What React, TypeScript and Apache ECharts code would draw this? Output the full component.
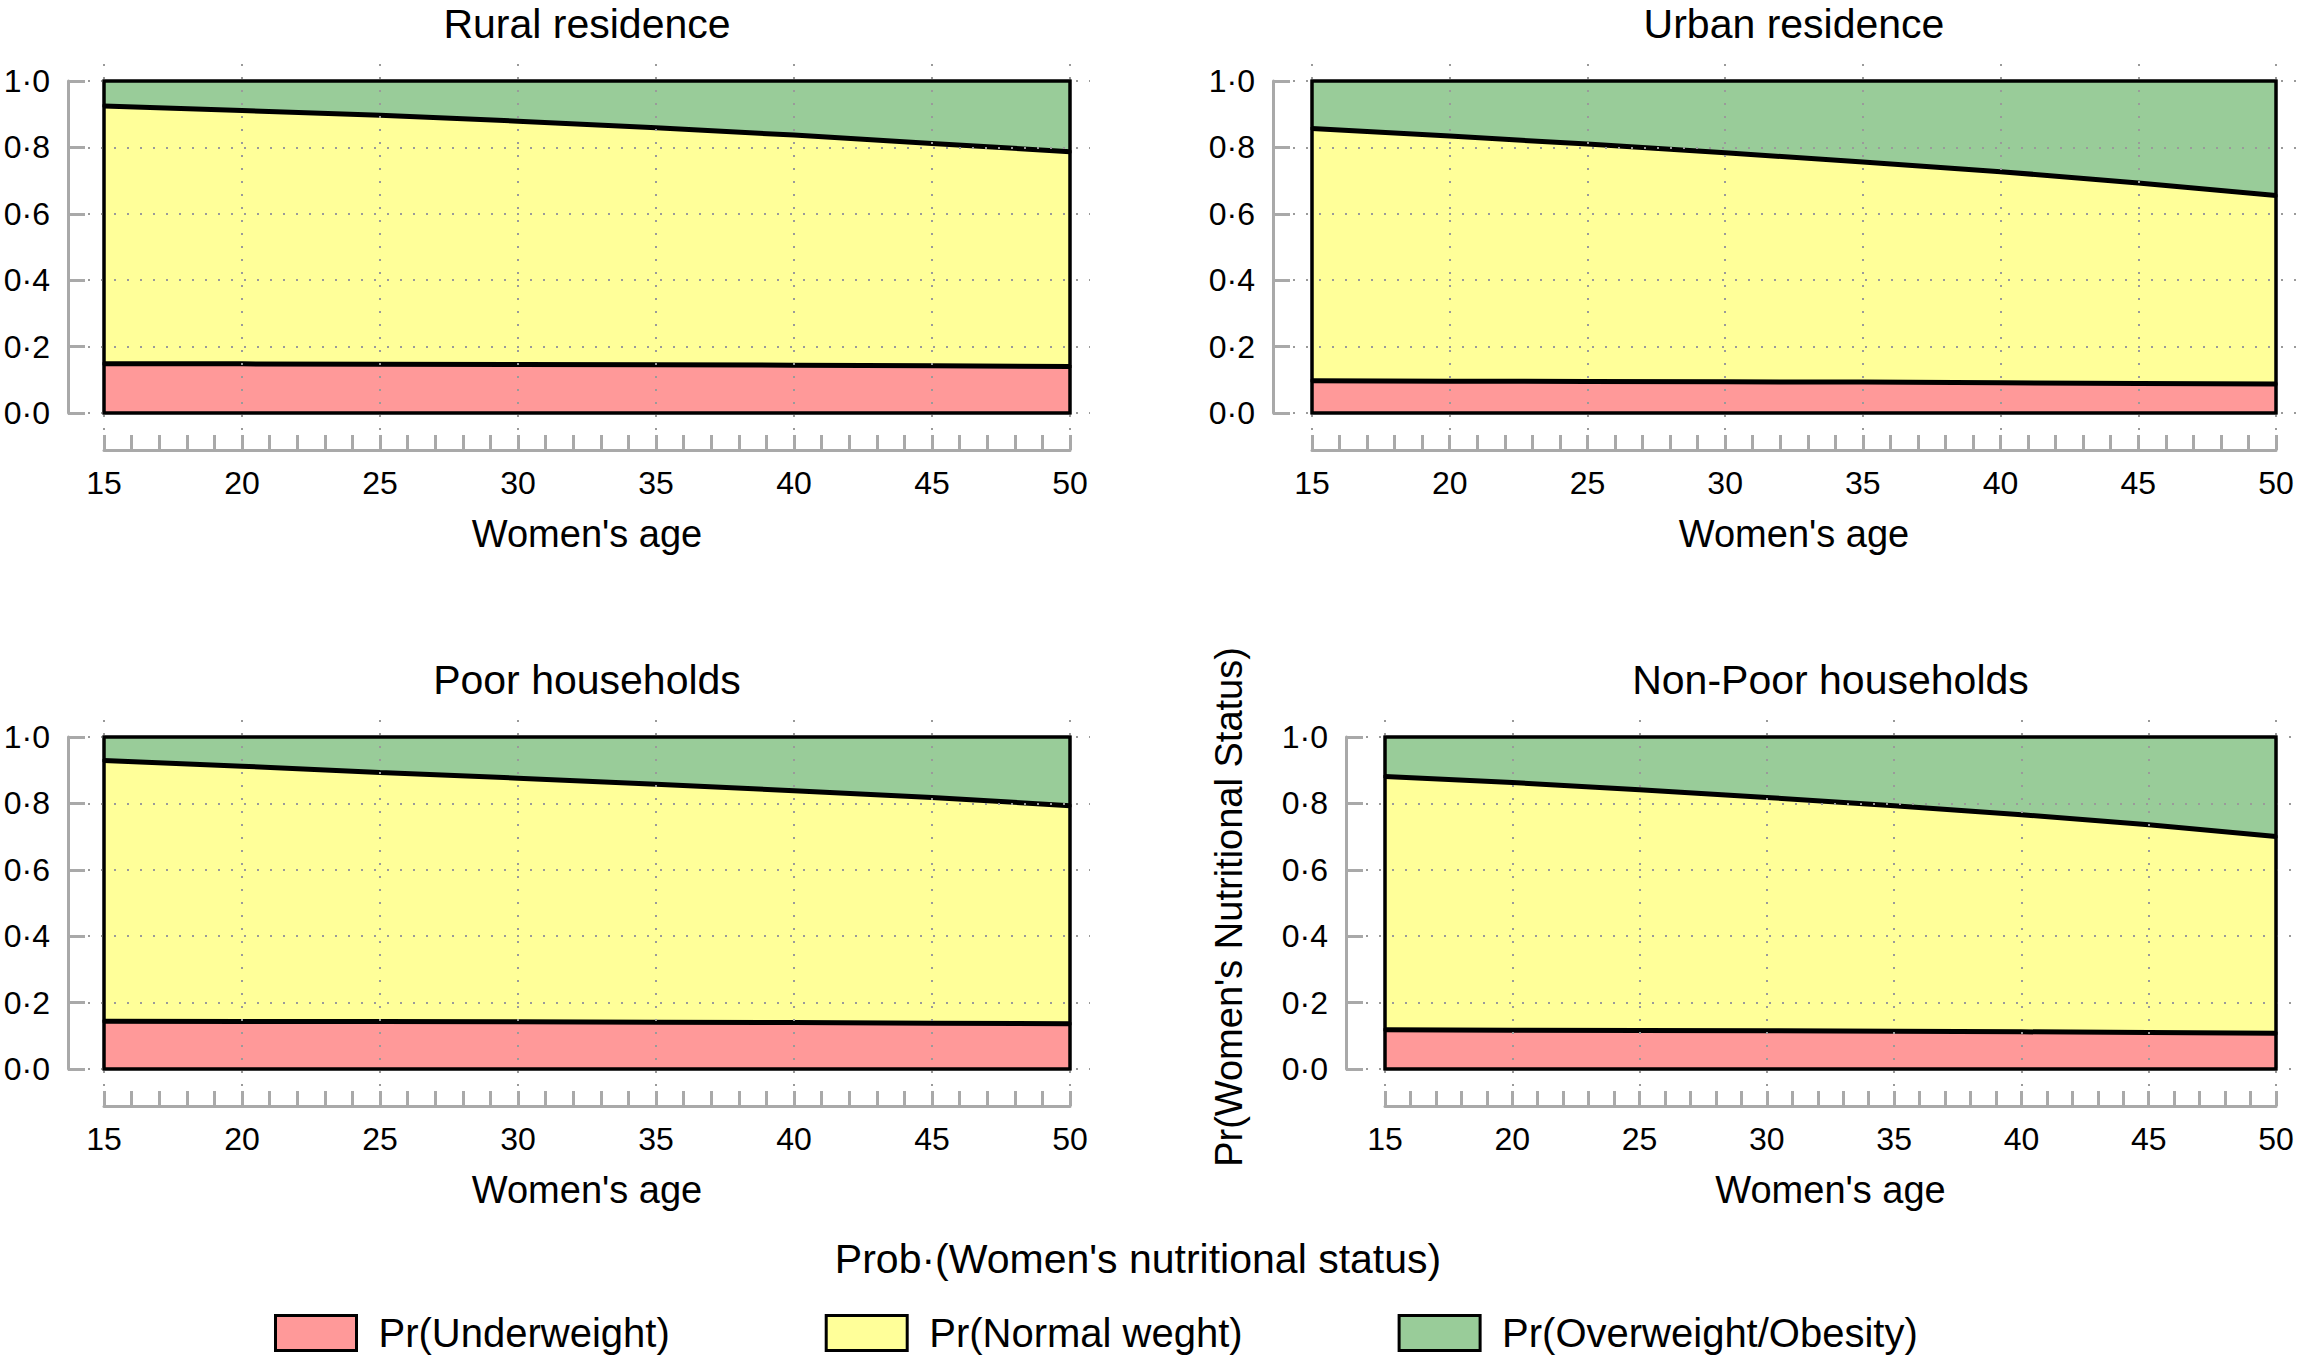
import React, { useEffect, useRef } from "react";
import * as echarts from "echarts";

const AGES = [15, 20, 25, 30, 35, 40, 45, 50];
const X_TICKS = [15, 20, 25, 30, 35, 40, 45, 50];
const Y_TICKS = [0, 0.2, 0.4, 0.6, 0.8, 1.0];
const CATEGORIES = ["Pr(Underweight)", "Pr(Normal weght)", "Pr(Overweight/Obesity)"];
const COLORS = ["#ff9999", "#ffff99", "#99cc99"];
const PANEL_TITLES = ["Rural residence", "Urban residence", "Poor households", "Non-Poor households"];

// Probabilities, per category, at each age in AGES
const ruralUnder = [0.148, 0.148, 0.147, 0.146, 0.145, 0.144, 0.142, 0.14];
const ruralNormal = [0.777, 0.763, 0.75, 0.733, 0.714, 0.693, 0.67, 0.647];
const ruralOver = [0.075, 0.089, 0.103, 0.121, 0.141, 0.163, 0.188, 0.213];

const urbanUnder = [0.097, 0.096, 0.095, 0.094, 0.093, 0.091, 0.089, 0.087];
const urbanNormal = [0.76, 0.738, 0.715, 0.69, 0.663, 0.636, 0.604, 0.568];
const urbanOver = [0.143, 0.166, 0.19, 0.216, 0.244, 0.273, 0.307, 0.345];

const poorUnder = [0.144, 0.143, 0.143, 0.142, 0.141, 0.14, 0.138, 0.136];
const poorNormal = [0.785, 0.769, 0.75, 0.734, 0.717, 0.698, 0.68, 0.657];
const poorOver = [0.071, 0.088, 0.107, 0.124, 0.142, 0.162, 0.182, 0.207];

const nonPoorUnder = [0.118, 0.117, 0.116, 0.115, 0.114, 0.112, 0.11, 0.108];
const nonPoorNormal = [0.763, 0.746, 0.725, 0.703, 0.679, 0.654, 0.626, 0.592];
const nonPoorOver = [0.119, 0.137, 0.159, 0.182, 0.207, 0.234, 0.264, 0.3];

const PANEL_DATA = [
  [ruralUnder, ruralNormal, ruralOver],
  [urbanUnder, urbanNormal, urbanOver],
  [poorUnder, poorNormal, poorOver],
  [nonPoorUnder, nonPoorNormal, nonPoorOver],
];

// layout (pixels)
const LAYOUT = [
  { axisX: 68, plotL: 104, plotR: 1070, plotT: 81, plotB: 413 },
  { axisX: 1273, plotL: 1312, plotR: 2276, plotT: 81, plotB: 413 },
  { axisX: 68, plotL: 104, plotR: 1070, plotT: 737, plotB: 1069 },
  { axisX: 1346, plotL: 1385, plotR: 2276, plotT: 737, plotB: 1069 },
];

const FONT = '"Liberation Sans", Arial, Helvetica, sans-serif';
const GRAY = "#a9a9a9";

function buildOption() {
  const grid: any[] = [];
  const xAxis: any[] = [];
  const yAxis: any[] = [];
  const series: any[] = [];
  const graphic: any[] = [];

  LAYOUT.forEach((L, p) => {
    const [under, normal, over] = PANEL_DATA[p];
    const cum0 = AGES.map(() => 0);
    const cum1 = AGES.map((_, i) => under[i]);
    const cum2 = AGES.map((_, i) => under[i] + normal[i]);
    const cum3 = AGES.map((_, i) => under[i] + normal[i] + over[i]);
    const bands = [
      [cum0, cum1],
      [cum1, cum2],
      [cum2, cum3],
    ];

    const g0L = L.axisX + 20;
    const g0R = L.plotR + 20;
    const g0T = L.plotT - 25;
    const g0B = L.plotB + 17;
    const ppuX = (L.plotR - L.plotL) / 35;
    const ppuY = L.plotB - L.plotT;
    const xAxisY = L.plotB + 37;

    const base = p * 3;
    grid.push({ left: g0L, top: g0T, width: g0R - g0L, height: g0B - g0T, containLabel: false, outerBoundsMode: "none" });
    xAxis.push({
      type: "value",
      gridIndex: base,
      min: 15 - (L.plotL - g0L) / ppuX,
      max: 50 + (g0R - L.plotR) / ppuX,
      show: false,
    });
    yAxis.push({
      type: "value",
      gridIndex: base,
      min: -(g0B - L.plotB) / ppuY,
      max: 1 + (L.plotT - g0T) / ppuY,
      show: false,
    });
    grid.push({ left: L.axisX, top: L.plotT, width: 20, height: L.plotB - L.plotT, containLabel: false, outerBoundsMode: "none" });
    xAxis.push({ type: "value", gridIndex: base + 1, min: 0, max: 1, show: false });
    yAxis.push({
      type: "value",
      gridIndex: base + 1,
      position: "left",
      min: 0,
      max: 1,
      interval: 0.2,
      axisLine: { show: true, lineStyle: { color: GRAY, width: 3 } },
      axisTick: { show: true, inside: true, length: 17, lineStyle: { color: GRAY, width: 3 } },
      axisLabel: {
        margin: 18,
        fontSize: 32,
        color: "#000",
        fontFamily: FONT,
        formatter: (v: number) => v.toFixed(1).replace(".", "\u00B7"),
      },
      splitLine: { show: false },
    });
    grid.push({ left: L.plotL, top: xAxisY - 20, width: L.plotR - L.plotL, height: 20, containLabel: false, outerBoundsMode: "none" });
    xAxis.push({
      type: "value",
      gridIndex: base + 2,
      position: "bottom",
      min: 15,
      max: 50,
      interval: 1,
      axisLine: { show: true, onZero: false, lineStyle: { color: GRAY, width: 3 } },
      axisTick: { show: true, inside: true, length: 15, lineStyle: { color: GRAY, width: 3 } },
      axisLabel: {
        margin: 17,
        fontSize: 32,
        color: "#000",
        fontFamily: FONT,
        formatter: (v: number) => (X_TICKS.indexOf(v) >= 0 ? String(v) : ""),
      },
      splitLine: { show: false },
    });
    yAxis.push({ type: "value", gridIndex: base + 2, min: 0, max: 1, show: false });

    const polygonSeries = (lo: number[], hi: number[], fill: string, z: number, name?: string) => ({
      type: "custom",
      name,
      xAxisIndex: base,
      yAxisIndex: base,
      z,
      silent: true,
      itemStyle: { color: fill === "none" ? "#000" : fill, borderColor: "#000", borderWidth: 3 },
      data: [[15, 0]],
      encode: { x: 0, y: 1 },
      renderItem: (params: any, api: any) => {
        const pts: number[][] = [];
        for (let i = 0; i < AGES.length; i++) pts.push(api.coord([AGES[i], hi[i]]));
        for (let i = AGES.length - 1; i >= 0; i--) pts.push(api.coord([AGES[i], lo[i]]));
        return {
          type: "polygon",
          shape: { points: pts },
          style: { fill, stroke: "#000", lineWidth: 3 },
        };
      },
    });

    bands.forEach(([lo, hi], b) => {
      series.push(polygonSeries(lo, hi, COLORS[b], 2, CATEGORIES[b]));
    });

    // grid lines (dotted), drawn over the fills
    series.push({
      type: "line",
      xAxisIndex: base,
      yAxisIndex: base,
      z: 3,
      silent: true,
      data: [],
      showSymbol: false,
      markLine: {
        silent: true,
        symbol: ["none", "none"],
        label: { show: false },
        lineStyle: { color: "#9a9a9a", type: [2, 11], width: 2 },
        data: [...X_TICKS.map((v) => ({ xAxis: v })), ...Y_TICKS.map((v) => ({ yAxis: v }))],
      },
    });

    // boundary lines between categories
    [cum1, cum2].forEach((c) => {
      series.push({
        type: "line",
        xAxisIndex: base,
        yAxisIndex: base,
        z: 4,
        silent: true,
        symbol: "none",
        lineStyle: { color: "#000", width: 5 },
        data: AGES.map((a, i) => [a, c[i]]),
      });
    });

    // outer outline above the grid lines
    series.push(polygonSeries(cum0, cum3, "none", 5));

    const cx = (L.plotL + L.plotR) / 2;
    graphic.push({
      type: "text",
      x: cx,
      y: L.plotT - 57,
      style: { text: PANEL_TITLES[p], fontSize: 41, fontFamily: FONT, fill: "#000", align: "center", verticalAlign: "middle" },
    });
    graphic.push({
      type: "text",
      x: cx,
      y: L.plotB + 121,
      style: { text: "Women's age", fontSize: 38, fontFamily: FONT, fill: "#000", align: "center", verticalAlign: "middle" },
    });
  });

  graphic.push({
    type: "text",
    x: 1229,
    y: 907,
    rotation: Math.PI / 2,
    style: { text: "Pr(Women's Nutritional Status)", fontSize: 38, fontFamily: FONT, fill: "#000", align: "center", verticalAlign: "middle" },
  });
  graphic.push({
    type: "text",
    x: 1138,
    y: 1259,
    style: { text: "Prob\u00B7(Women's nutritional status)", fontSize: 41, fontFamily: FONT, fill: "#000", align: "center", verticalAlign: "middle" },
  });

  return {
    animation: false,
    backgroundColor: "#ffffff",
    grid,
    xAxis,
    yAxis,
    series,
    graphic,
    legend: {
      left: 269,
      top: 1308,
      orient: "horizontal",
      itemWidth: 81,
      itemHeight: 35,
      itemGap: 155,
      selectedMode: false,
      textStyle: { fontSize: 40, fontFamily: FONT, color: "#000", padding: [0, 0, 0, 17] },
      data: CATEGORIES.map((n, i) => ({
        name: n,
        icon: "rect",
        itemStyle: { color: COLORS[i], borderColor: "#000", borderWidth: 3 },
      })),
    },
  };
}

export default function App() {
  const ref = useRef<HTMLDivElement>(null);
  useEffect(() => {
    if (!ref.current) return;
    const chart = echarts.init(ref.current, undefined, { renderer: "svg" });
    chart.setOption(buildOption() as any);
    return () => chart.dispose();
  }, []);
  return (
    <div
      ref={ref}
      style={{ position: "absolute", left: 0, top: 0, width: 2304, height: 1357, background: "#fff" }}
    />
  );
}
